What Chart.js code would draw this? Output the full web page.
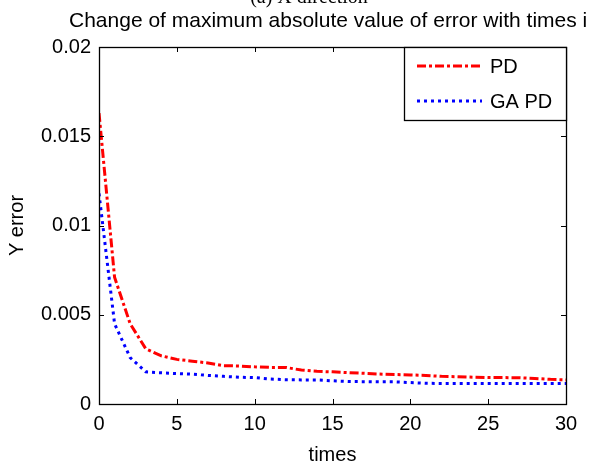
<!DOCTYPE html>
<html>
<head>
<meta charset="utf-8">
<script src="https://cdn.jsdelivr.net/npm/chart.js@4.4.0/dist/chart.umd.min.js"></script>
<style>
  body { margin: 0; background: #fff; }
  #wrap { width: 591px; height: 465px; }
</style>
</head>
<body>
<div id="wrap"><canvas id="chart1" width="591" height="465"></canvas></div>
<script>
const topText = "(a) X direction";
const titleText = "Change of maximum absolute value of error with times i";
const xTitle = "times";
const yTitle = "Y error";

const times = [0,1,2,3,4,5,6,7,8,9,10,11,12,13,14,15,16,17,18,19,20,21,22,23,24,25,26,27,28,29,30];
const pdErr = [0.0163,0.0071,0.0045,0.0031,0.0027,0.0025,0.0024,0.0023,0.00215,0.00213,0.00208,0.00205,0.00205,0.0019,0.00183,0.0018,0.00176,0.00172,0.00168,0.00165,0.00163,0.0016,0.00155,0.00153,0.0015,0.00148,0.00148,0.00147,0.00143,0.00138,0.00135];
const gapdErr = [0.0118,0.0045,0.0026,0.0018,0.00175,0.0017,0.00167,0.0016,0.00155,0.0015,0.00148,0.0014,0.00136,0.00135,0.00135,0.0013,0.00126,0.00125,0.00124,0.00124,0.0012,0.00116,0.00115,0.00115,0.00115,0.00115,0.00115,0.00115,0.00115,0.00115,0.00115];

const xTickLabels = ["0","5","10","15","20","25","30"];
const yTickLabels = ["0","0.005","0.01","0.015","0.02"];

const FONT = "'Liberation Sans', Arial, sans-serif";

// titles above the box, drawn by hand so they can run off the edge like the original
const titlesPlugin = {
  id: "titles",
  afterDraw(chart) {
    const c = chart.ctx;
    c.save();
    c.fillStyle = "#000";
    c.textBaseline = "alphabetic";
    c.textAlign = "center";
    c.font = "20px 'Liberation Serif', 'Times New Roman', serif";
    c.fillText(topText, 309, 3);
    c.textAlign = "left";
    c.font = "21px " + FONT;
    c.fillText(titleText, 69, 27);
    c.restore();
  }
};

// matlab style box with ticks pointing in
const boxPlugin = {
  id: "box",
  afterDraw(chart) {
    const c = chart.ctx;
    const a = chart.chartArea;
    const xs = chart.scales.x, ys = chart.scales.y;
    c.save();
    c.strokeStyle = "#000";
    c.lineWidth = 1;
    c.beginPath();
    xs.ticks.forEach(t => {
      const px = Math.round(xs.getPixelForValue(t.value)) + 0.5;
      c.moveTo(px, a.bottom); c.lineTo(px, a.bottom - 5);
      c.moveTo(px, a.top); c.lineTo(px, a.top + 5);
    });
    ys.ticks.forEach(t => {
      const py = Math.round(ys.getPixelForValue(t.value)) + 0.5;
      c.moveTo(a.left, py); c.lineTo(a.left + 5, py);
      c.moveTo(a.right, py); c.lineTo(a.right - 5, py);
    });
    c.stroke();
    c.lineWidth = 1.3;
    c.strokeRect(a.left + 0.5, a.top + 0.5, a.right - a.left, a.bottom - a.top);
    c.restore();
  }
};

// legend box in the top right corner of the plot
const legendBoxPlugin = {
  id: "legendBox",
  afterDraw(chart) {
    const c = chart.ctx;
    const a = chart.chartArea;
    const bx = 404, by = a.top, bw = a.right - 404, bh = 73;
    c.save();
    c.fillStyle = "#fff";
    c.fillRect(bx, by, bw, bh);
    c.strokeStyle = "#000";
    c.lineWidth = 1.3;
    c.strokeRect(bx + 0.5, by + 0.5, bw, bh);
    chart.data.datasets.forEach((ds, i) => {
      const ly = by + 19 + i * 35;
      c.beginPath();
      c.setLineDash(ds.borderDash);
      c.strokeStyle = ds.borderColor;
      c.lineWidth = ds.borderWidth;
      c.moveTo(417, ly);
      c.lineTo(482, ly);
      c.stroke();
      c.setLineDash([]);
      c.fillStyle = "#000";
      c.font = "20px " + FONT;
      c.textBaseline = "middle";
      c.textAlign = "left";
      c.fillText(ds.label, 490, ly + 1);
    });
    c.restore();
  }
};

const ctx = document.getElementById("chart1").getContext("2d");
const myChart = new Chart(ctx, {
  type: "line",
  data: {
    datasets: [
      {
        label: "PD",
        data: times.map((t, i) => ({ x: t, y: pdErr[i] })),
        borderColor: "#ff0000",
        borderWidth: 3,
        borderDash: [9, 3, 3, 3],
        pointRadius: 0,
        tension: 0,
        fill: false
      },
      {
        label: "GA PD",
        data: times.map((t, i) => ({ x: t, y: gapdErr[i] })),
        borderColor: "#0000ff",
        borderWidth: 3,
        borderDash: [3, 4],
        pointRadius: 0,
        tension: 0,
        fill: false
      }
    ]
  },
  options: {
    responsive: false,
    animation: false,
    layout: { padding: { top: 47, right: 25, left: 0, bottom: 0 } },
    plugins: {
      legend: { display: false },
      tooltip: { enabled: false }
    },
    scales: {
      x: {
        type: "linear",
        min: 0,
        max: 30,
        afterFit: s => { s.height = 61; },
        afterBuildTicks: s => { s.ticks = xTickLabels.map(v => ({ value: Number(v) })); },
        ticks: {
          color: "#000",
          font: { family: FONT, size: 20 },
          padding: 8,
          maxRotation: 0,
          callback: (v, i) => xTickLabels[i]
        },
        grid: { display: false, drawTicks: false },
        border: { display: false },
        title: {
          display: true,
          text: xTitle,
          color: "#000",
          font: { family: FONT, size: 20, lineHeight: 1 },
          padding: { top: 0, bottom: 0 }
        }
      },
      y: {
        min: 0,
        max: 0.02,
        afterFit: s => { s.width = 99; },
        afterBuildTicks: s => { s.ticks = yTickLabels.map(v => ({ value: Number(v) })); },
        ticks: {
          color: "#000",
          font: { family: FONT, size: 20 },
          padding: 8,
          callback: (v, i) => yTickLabels[i]
        },
        grid: { display: false, drawTicks: false },
        border: { display: false },
        title: {
          display: true,
          text: yTitle,
          color: "#000",
          font: { family: FONT, size: 20, lineHeight: 1.2 },
          padding: { top: 5, bottom: 0 }
        }
      }
    }
  },
  plugins: [titlesPlugin, boxPlugin, legendBoxPlugin]
});
</script>
</body>
</html>
